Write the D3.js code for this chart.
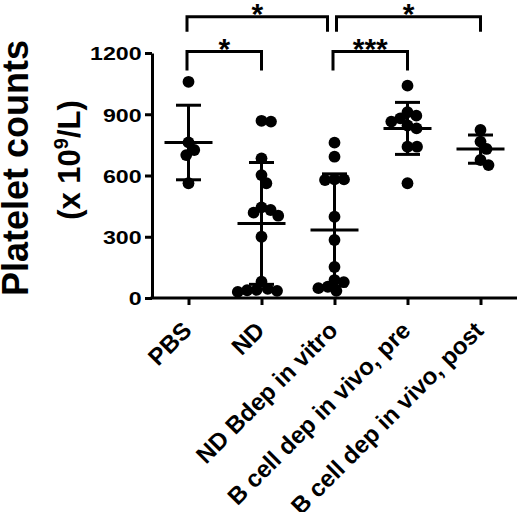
<!DOCTYPE html>
<html>
<head>
<meta charset="utf-8">
<script src="https://cdn.jsdelivr.net/npm/d3@7"></script>
<style>
  html, body { margin: 0; padding: 0; background: #fff; }
  svg { display: block; font-family: "Liberation Sans", Arial, sans-serif; }
</style>
</head>
<body>
<svg id="chart" width="520" height="512"></svg>
<script>
// ---------- data ----------
const categories = ["PBS", "ND", "ND Bdep in vitro", "B cell dep in vivo, pre", "B cell dep in vivo, post"];
const pbsValues  = [1059, 762, 725, 700, 562];
const ndValues   = [868, 864, 684, 602, 562, 444, 431, 418, 403, 300, 80, 45, 40, 38, 35, 30];
const ndBdepValues = [761, 692, 581, 581, 578, 398, 284, 152, 88, 78, 55, 48, 35];
const preValues  = [1040, 910, 893, 880, 864, 845, 831, 741, 741, 562];
const postValues = [823, 766, 730, 676, 651];
const seriesValues = [pbsValues, ndValues, ndBdepValues, preValues, postValues];
const yTicks = [0, 300, 600, 900, 1200];
const comparisons = [
  { from: 0, to: 1, label: "*",   tier: 0 },
  { from: 2, to: 3, label: "***", tier: 0 },
  { from: 0, to: 2, label: "*",   tier: 1 },
  { from: 2, to: 4, label: "*",   tier: 1 }
];

// ---------- layout ----------
const svg = d3.select("#chart");
const plotLeft = 152, plotRight = 517, plotTop = 53, plotBottom = 298;
const R = 5.9;

const x = d3.scalePoint().domain(categories).range([plotLeft, plotRight]).padding(0.5);
const y = d3.scaleLinear().domain([0, 1200]).range([plotBottom, plotTop]);

// ---------- beeswarm placement (computed, no typed coordinates) ----------
function swarm(values, cx) {
  const D = 9.5;
  const placed = [];
  const order = values.map((v, i) => i).sort((a, b) => values[b] - values[a]);
  const out = new Array(values.length);
  order.forEach(i => {
    const py = y(values[i]);
    const intervals = [];
    placed.forEach(p => {
      const dy = Math.abs(p.y - py);
      if (dy < D) {
        const w = Math.sqrt(D * D - dy * dy);
        intervals.push([p.x - w, p.x + w]);
      }
    });
    const cands = [0];
    intervals.forEach(([a, b]) => { cands.push(a, b); });
    cands.sort((a, b) => Math.abs(a) - Math.abs(b) || b - a);
    let px = 0;
    for (const c of cands) {
      if (!intervals.some(([a, b]) => c > a + 1e-6 && c < b - 1e-6)) { px = c; break; }
    }
    placed.push({ x: px, y: py });
    out[i] = { x: cx + px, y: py };
  });
  return out;
}

// ---------- axes ----------
const black = "#000";
const yAxis = svg.append("g")
  .attr("transform", `translate(${plotLeft},0)`)
  .call(d3.axisLeft(y).tickValues(yTicks).tickSize(7).tickSizeOuter(0).tickFormat(d3.format("d")));
yAxis.select(".domain").attr("stroke", black).attr("stroke-width", 3);
yAxis.selectAll(".tick line").attr("stroke", black).attr("stroke-width", 3);
yAxis.selectAll(".tick text")
  .attr("x", -8.5).attr("dy", "0.36em")
  .attr("transform", "scale(1.22,1)")
  .attr("font-size", 19).attr("font-weight", "bold").attr("fill", black)
  .attr("font-family", "Liberation Sans, Arial, sans-serif");

const xAxis = svg.append("g")
  .attr("transform", `translate(0,${plotBottom})`)
  .call(d3.axisBottom(x).tickSize(7).tickSizeOuter(0));
xAxis.select(".domain").attr("stroke", black).attr("stroke-width", 3)
  .attr("d", `M${plotLeft - 1.5},0H${plotRight}`);
xAxis.selectAll(".tick line").attr("stroke", black).attr("stroke-width", 3);
xAxis.selectAll(".tick text")
  .attr("x", 0).attr("y", 0).attr("dy", 0)
  .attr("text-anchor", "end")
  .attr("transform", "translate(4,34) rotate(-45)")
  .attr("font-size", 24).attr("font-weight", "bold").attr("fill", black)
  .attr("font-family", "Liberation Sans, Arial, sans-serif");

// ---------- dots ----------
const dotsG = svg.append("g");
seriesValues.forEach((vals, ci) => {
  const pts = swarm(vals, x(categories[ci]));
  dotsG.selectAll(null).data(pts).enter().append("circle")
    .attr("cx", d => d.x).attr("cy", d => d.y).attr("r", R).attr("fill", black);
});

// ---------- mean ± SD ----------
const barsG = svg.append("g").attr("stroke", black).attr("stroke-width", 3).attr("fill", "none");
seriesValues.forEach((vals, ci) => {
  const cx = x(categories[ci]);
  const m = d3.mean(vals), sd = d3.deviation(vals);
  barsG.append("line").attr("x1", cx).attr("x2", cx).attr("y1", y(m - sd)).attr("y2", y(m + sd));
  barsG.append("line").attr("x1", cx - 12.5).attr("x2", cx + 12.5).attr("y1", y(m + sd)).attr("y2", y(m + sd));
  barsG.append("line").attr("x1", cx - 12.5).attr("x2", cx + 12.5).attr("y1", y(m - sd)).attr("y2", y(m - sd));
  barsG.append("line").attr("x1", cx - 24).attr("x2", cx + 24).attr("y1", y(m)).attr("y2", y(m));
});

// ---------- significance brackets ----------
const tierLevels = [ { line: 1207, leg: 1114 }, { line: 1378, leg: 1304 } ];
const brG = svg.append("g");
comparisons.forEach(c => {
  const lv = tierLevels[c.tier];
  const shares = (idx) => comparisons.filter(o => o !== c && o.tier === c.tier && (o.from === idx || o.to === idx)).length > 0;
  const x1 = x(categories[c.from]) + (shares(c.from) ? 2 : -1.5);
  const x2 = x(categories[c.to]) + (shares(c.to) ? -7 : 0);
  const yl = y(lv.line), yg = y(lv.leg);
  brG.append("path")
    .attr("d", `M${x1},${yg}V${yl}H${x2}V${yg}`)
    .attr("fill", "none").attr("stroke", black).attr("stroke-width", 3)
    .attr("stroke-linejoin", "miter").attr("stroke-linecap", "butt");
  brG.append("text")
    .attr("x", (x1 + x2) / 2).attr("y", yl + 7.5)
    .attr("text-anchor", "middle")
    .attr("font-size", 30).attr("font-weight", "bold").attr("fill", black)
    .text(c.label);
});

// ---------- y-axis title ----------
svg.append("text")
  .attr("transform", "translate(28,168) rotate(-90)")
  .attr("text-anchor", "middle")
  .attr("font-size", 36).attr("font-weight", "bold").attr("fill", black)
  .text("Platelet counts");
const t2 = svg.append("text")
  .attr("transform", "translate(80,160) rotate(-90)")
  .attr("text-anchor", "middle")
  .attr("font-size", 31).attr("font-weight", "bold").attr("fill", black);
t2.append("tspan").text("(x 10");
t2.append("tspan").attr("font-size", 20).attr("dy", -12).text("9");
t2.append("tspan").attr("dy", 12).text("/L)");
</script>
</body>
</html>
